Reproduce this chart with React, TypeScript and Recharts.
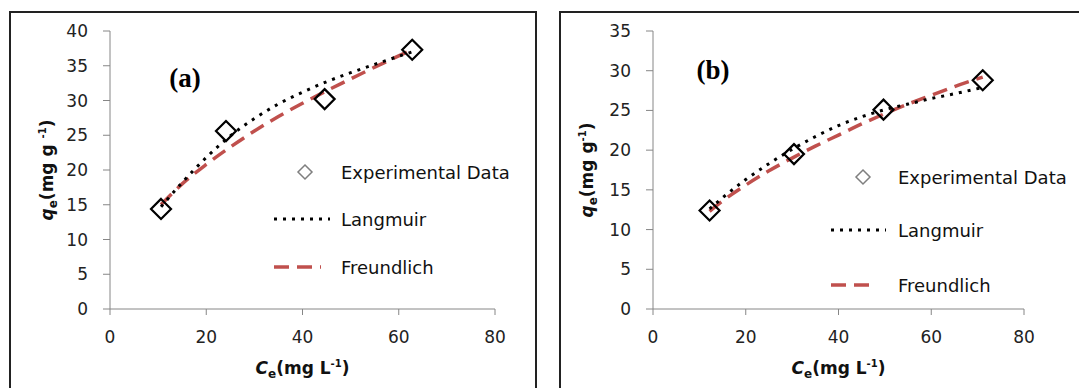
import React from "react";
import { ComposedChart, XAxis, YAxis, Line, Scatter, Label } from "recharts";

// ---------- Data ----------
const panelLabels = ["(a)", "(b)"];
const seriesNames = ["Experimental Data", "Langmuir", "Freundlich"];

const xTicks = [0, 20, 40, 60, 80];
const yTicksA = [0, 5, 10, 15, 20, 25, 30, 35, 40];
const yTicksB = [0, 5, 10, 15, 20, 25, 30, 35];

// Panel (a)
const expA_c = [10.6, 24.1, 44.6, 62.8];
const expA_q = [14.4, 25.6, 30.2, 37.3];
const fitA_c = [10.6, 15, 20, 25, 30, 35, 40, 45, 50, 55, 62.8];
const langA_q = [14.7, 18.2, 21.8, 24.9, 27.4, 29.5, 31.2, 32.7, 34.0, 35.2, 37.0];
const freA_q = [15.0, 18.0, 20.8, 23.3, 25.6, 27.7, 29.6, 31.4, 33.1, 34.8, 37.3];

// Panel (b)
const expB_c = [12.2, 30.4, 49.7, 71.1];
const expB_q = [12.4, 19.5, 25.1, 28.8];
const fitB_c = [12.2, 15, 20, 25, 30, 35, 40, 45, 50, 55, 60, 65, 71.1];
const langB_q = [12.6, 14.0, 16.3, 18.3, 20.1, 21.7, 23.1, 24.2, 25.1, 25.8, 26.5, 27.1, 27.9];
const freB_q = [12.3, 13.6, 15.6, 17.4, 19.0, 20.5, 21.9, 23.3, 24.6, 25.8, 26.9, 28.0, 29.2];

const zip = (c: number[], q: number[]) => c.map((v, i) => ({ c: v, q: q[i] }));

// ---------- Styles ----------
const FONT = "DejaVu Sans";
const AXIS_COLOR = "#868686";
const RED = "#C0504D";
const LANG_DASH = "3 6";
const FRE_DASH = "15 8";

const Diamond = (props: any) => {
  const { cx, cy } = props;
  if (cx == null || cy == null) return null;
  const r = 10;
  return (
    <path
      d={`M${cx},${cy - r} L${cx + r},${cy} L${cx},${cy + r} L${cx - r},${cy} Z`}
      fill="none"
      stroke="#000"
      strokeWidth={2.2}
    />
  );
};

type PanelProps = {
  left: number;
  width: number;
  marginLeft: number;
  marginRight: number;
  yMax: number;
  yTicks: number[];
  exp: { c: number; q: number }[];
  lang: { c: number; q: number }[];
  fre: { c: number; q: number }[];
  tag: string;
  tagX: number;
  tagY: number;
  legX: number;
  legTextX: number;
  legLineX1: number;
  legLineX2: number;
  legFreX2: number;
  legY: number[];
  yUnitSpace: boolean;
};

const Panel = (p: PanelProps) => {
  const H = 388;
  const xTitle = (lp: any) => {
    const vb = lp.viewBox || { x: 0, width: 0 };
    const cx = vb.x + vb.width / 2;
    return (
      <text x={cx} y={374} textAnchor="middle" fontFamily={FONT} fontWeight="bold" fontSize={17} fill="#111">
        <tspan fontStyle="italic">C</tspan>
        <tspan fontSize={12} dy={4}>e</tspan>
        <tspan dy={-4}>(mg L</tspan>
        <tspan fontSize={10} dy={-7}>-1</tspan>
        <tspan dy={7}>)</tspan>
      </text>
    );
  };
  const yTitle = () => {
    const x = 52.5;
    const y = 170;
    return (
      <g>
        <text
          x={x}
          y={y}
          transform={`rotate(-90, ${x}, ${y})`}
          textAnchor="middle"
          fontFamily={FONT}
          fontWeight="bold"
          fontSize={17}
          fill="#111"
        >
          <tspan fontStyle="italic">q</tspan>
          <tspan fontSize={12} dy={4}>e</tspan>
          <tspan dy={-4}>{p.yUnitSpace ? "(mg g " : "(mg g"}</tspan>
          <tspan fontSize={10} dy={-7}>-1</tspan>
          <tspan dy={7}>)</tspan>
        </text>
        <text
          x={p.tagX}
          y={p.tagY}
          textAnchor="middle"
          fontFamily="Liberation Serif"
          fontWeight="bold"
          fontSize={27}
          fill="#000"
        >
          {p.tag}
        </text>
        {/* legend */}
        <path
          d={`M${p.legX},${p.legY[0] - 7} L${p.legX + 7},${p.legY[0]} L${p.legX},${p.legY[0] + 7} L${p.legX - 7},${p.legY[0]} Z`}
          fill="none"
          stroke="#7f7f7f"
          strokeWidth={1.5}
        />
        <line x1={p.legLineX1} x2={p.legLineX2} y1={p.legY[1]} y2={p.legY[1]} stroke="#000" strokeWidth={3} strokeDasharray={LANG_DASH} />
        <line x1={p.legLineX1} x2={p.legFreX2} y1={p.legY[2]} y2={p.legY[2]} stroke={RED} strokeWidth={3.5} strokeDasharray={FRE_DASH} />
        {seriesNames.map((n, i) => (
          <text key={n} x={p.legTextX} y={p.legY[i] + 6.5} fontFamily={FONT} fontSize={18} fill="#111">
            {n}
          </text>
        ))}
      </g>
    );
  };

  return (
    <div style={{ position: "absolute", left: p.left, top: 0, width: p.width, height: H }}>
      <ComposedChart
        width={p.width}
        height={H}
        margin={{ top: 31, right: p.marginRight, bottom: 49, left: p.marginLeft }}
      >
        <XAxis
          type="number"
          dataKey="c"
          domain={[0, 80]}
          ticks={xTicks}
          allowDataOverflow
          height={30}
          stroke={AXIS_COLOR}
          tickSize={6}
          tickMargin={16}
          tick={{ fontFamily: FONT, fontSize: 17, fill: "#222" }}
          tickLine={{ stroke: AXIS_COLOR }}
        >
          <Label content={xTitle} />
        </XAxis>
        <YAxis
          type="number"
          dataKey="q"
          domain={[0, p.yMax]}
          ticks={p.yTicks}
          allowDataOverflow
          width={60}
          stroke={AXIS_COLOR}
          tickSize={7}
          tickMargin={15}
          tick={{ fontFamily: FONT, fontSize: 17, fill: "#222" }}
          tickLine={{ stroke: AXIS_COLOR }}
        >
          <Label content={yTitle} />
        </YAxis>
        <Line
          data={p.fre}
          dataKey="q"
          type="monotone"
          stroke={RED}
          strokeWidth={3.5}
          strokeDasharray={FRE_DASH}
          dot={false}
          activeDot={false}
          isAnimationActive={false}
          name={seriesNames[2]}
        />
        <Line
          data={p.lang}
          dataKey="q"
          type="monotone"
          stroke="#000"
          strokeWidth={3}
          strokeDasharray={LANG_DASH}
          dot={false}
          activeDot={false}
          isAnimationActive={false}
          name={seriesNames[1]}
        />
        <Scatter
          data={p.exp}
          dataKey="q"
          shape={Diamond}
          isAnimationActive={false}
          name={seriesNames[0]}
        />
      </ComposedChart>
    </div>
  );
};

export default function App() {
  return (
    <div
      style={{
        position: "absolute",
        left: 0,
        top: 0,
        width: 1079,
        height: 388,
        background: "#fff",
        overflow: "hidden",
      }}
    >
      <div
        style={{
          position: "absolute",
          left: 9,
          top: 11,
          width: 524,
          height: 420,
          border: "2px solid #222",
        }}
      />
      <div
        style={{
          position: "absolute",
          left: 559,
          top: 11,
          width: 600,
          height: 420,
          border: "2px solid #222",
        }}
      />
      <Panel
        left={0}
        width={540}
        marginLeft={50}
        marginRight={45}
        yMax={40}
        yTicks={yTicksA}
        exp={zip(expA_c, expA_q)}
        lang={zip(fitA_c, langA_q)}
        fre={zip(fitA_c, freA_q)}
        tag={panelLabels[0]}
        tagX={185}
        tagY={87}
        legX={305}
        legTextX={341}
        legLineX1={274}
        legLineX2={330}
        legFreX2={321}
        legY={[172, 219, 267]}
        yUnitSpace={true}
      />
      <Panel
        left={540}
        width={539}
        marginLeft={53}
        marginRight={55}
        yMax={35}
        yTicks={yTicksB}
        exp={zip(expB_c, expB_q)}
        lang={zip(fitB_c, langB_q)}
        fre={zip(fitB_c, freB_q)}
        tag={panelLabels[1]}
        tagX={173}
        tagY={79}
        legX={323}
        legTextX={358}
        legLineX1={291}
        legLineX2={346}
        legFreX2={336}
        legY={[177, 230, 285]}
        yUnitSpace={false}
      />
    </div>
  );
}
